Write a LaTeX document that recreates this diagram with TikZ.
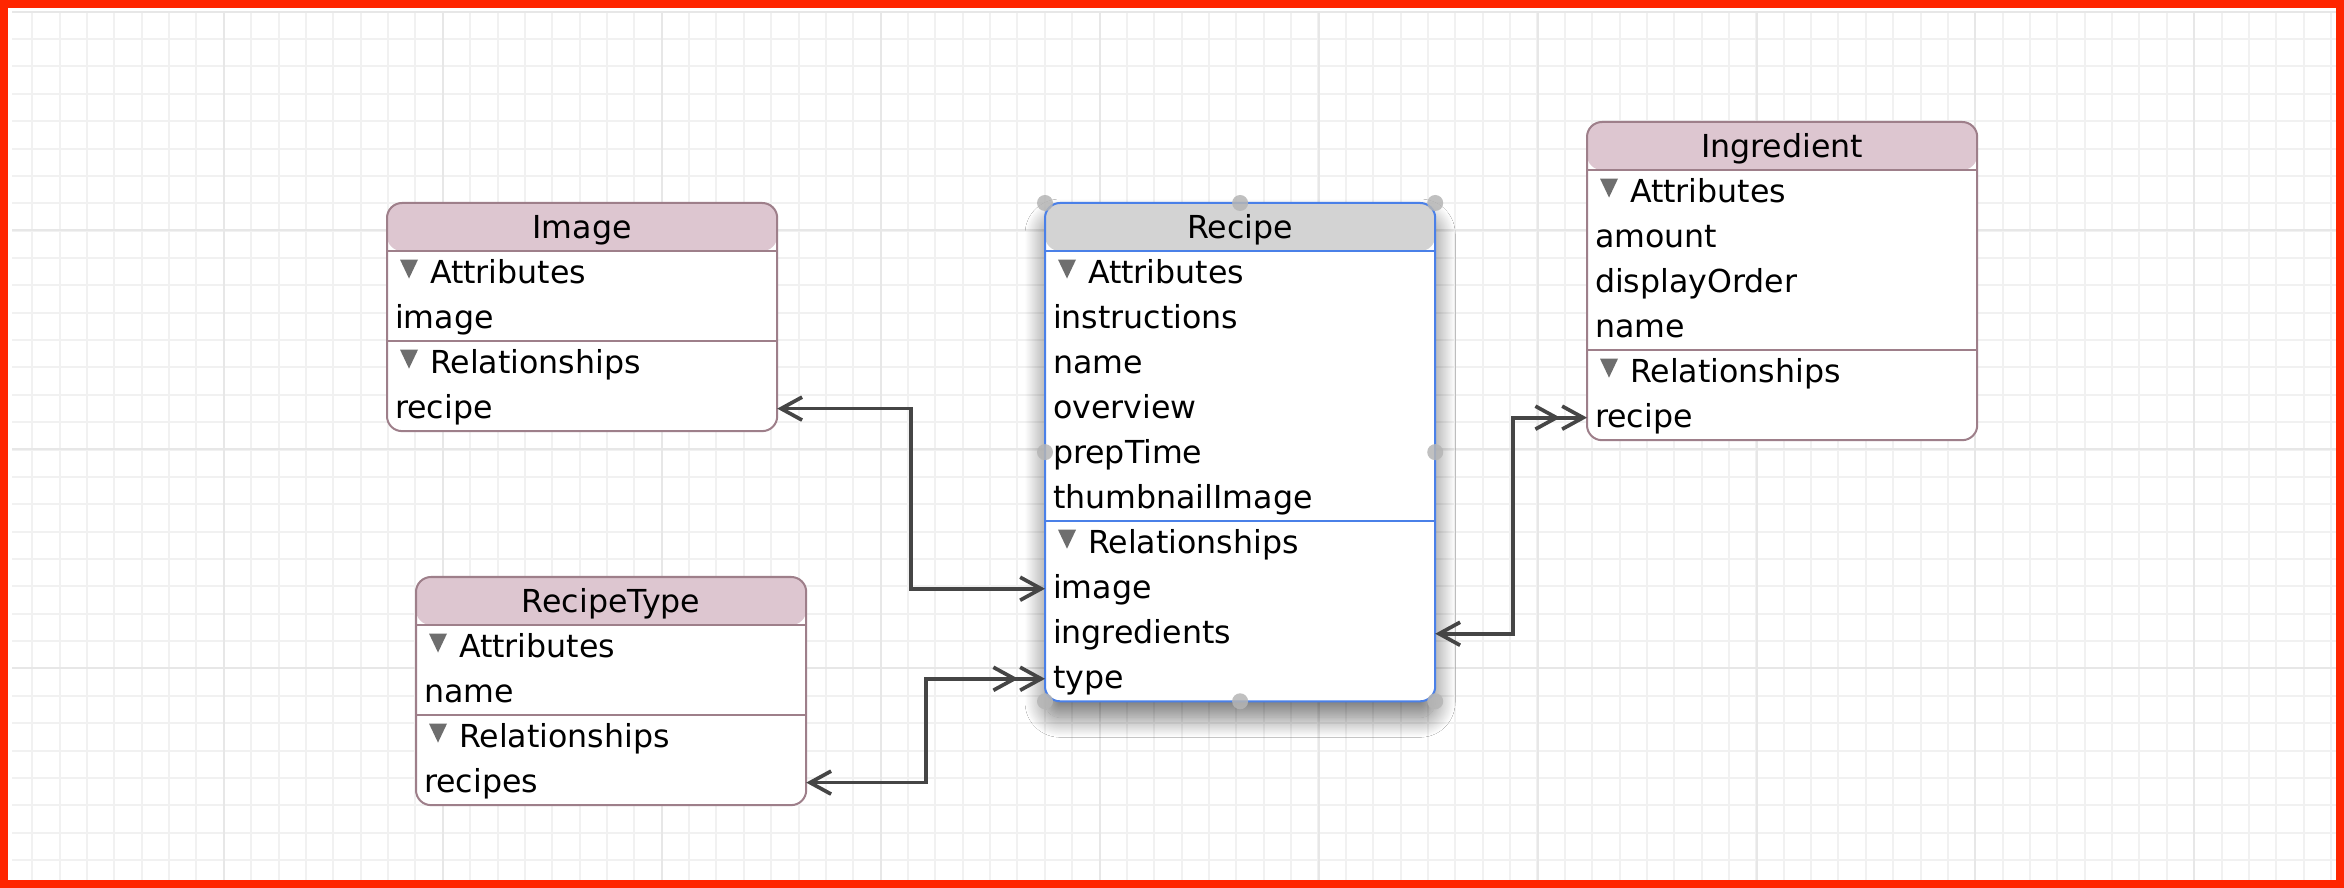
\documentclass[tikz,border=0pt]{standalone}
\usepackage{fontspec}
\setmainfont{DejaVu Sans}
\usetikzlibrary{arrows.meta,positioning,shadows.blur}

\definecolor{hdrpink}{HTML}{DDC6D0}
\definecolor{hdrgray}{HTML}{D3D3D3}
\definecolor{mauve}{HTML}{9E7F8A}
\definecolor{selblue}{HTML}{4A80E8}
\definecolor{trigray}{HTML}{6E6E6E}
\definecolor{wire}{HTML}{454545}
\definecolor{framered}{HTML}{FF2600}
\definecolor{gridminor}{HTML}{F1F1F1}
\definecolor{gridmajor}{HTML}{E7E7E7}
\definecolor{handle}{HTML}{B5B5B5}

% small grey disclosure triangle in front of a section name
\newcommand{\disclose}{\hspace{0.05cm}\tikz[baseline=0cm]\fill[trigray] (0cm,0.24cm) -- (0.18cm,0.24cm) -- (0.09cm,0.05cm) -- cycle;\hspace{0.12cm}}

\begin{document}
\begin{tikzpicture}[x=0.01cm,y=-0.01cm,font=\fontsize{9pt}{11pt}\selectfont,>={Straight Barb[length=0.21cm,width=0.23cm]}]
\tikzstyle{arc}=[draw=wire,line width=0.037cm]
\tikzstyle{entity}=[draw=mauve,line width=0.02cm,fill=white,rounded corners=0.15cm,minimum width=3.9cm,inner sep=0pt,outer sep=0pt,anchor=north west,
  path picture={\fill[hdrpink] (path picture bounding box.north west) rectangle ([yshift=-0.48cm]path picture bounding box.north east);}]
\tikzstyle{selected}=[draw=selblue,
  path picture={\fill[hdrgray] (path picture bounding box.north west) rectangle ([yshift=-0.48cm]path picture bounding box.north east);},
  blur shadow={shadow xshift=0cm,shadow yshift=-0.16cm,shadow blur radius=0.2cm,shadow blur steps=30,shadow opacity=55}]
\tikzstyle{title}=[minimum width=3.9cm,minimum height=0.48cm,inner sep=0pt,outer sep=0pt,text height=0.27cm,text depth=0.05cm,anchor=north]
\tikzstyle{row}=[minimum width=3.9cm,text width=3.74cm,inner xsep=0.08cm,inner ysep=0pt,minimum height=0.45cm,outer sep=0pt,text height=0.26cm,text depth=0.06cm,align=left,anchor=north]
\tikzstyle{sep}=[line width=0.02cm]
%% canvas %%
\useasboundingbox (0,0) rectangle (2344,888);
\fill[white] (0,0) rectangle (2344,888);
\begin{scope}[shift={(32.3,11.7)}]
\draw[gridminor,line width=0.02cm,step=0.2735cm] (-20,0) grid (2304,870);
\end{scope}
\begin{scope}[shift={(224,230.5)}]
\draw[gridmajor,line width=0.02cm,step=2.188cm] (-212,-219) grid (2112,651);
\end{scope}
\draw[framered,line width=0.08cm] (4,4) rectangle (2340,884);
%% entities %%
\node[entity,minimum height=2.28cm] at (387,203) (Image) {};
\node[title,below=0pt of Image.north] (Img-title) {Image};
\node[row,below=0pt of Img-title] (Img-a) {\disclose Attributes};
\node[row,below=0pt of Img-a] (Img-image) {image};
\node[row,below=0pt of Img-image] (Img-r) {\disclose Relationships};
\node[row,below=0pt of Img-r] (Img-recipe) {recipe};
\draw[sep,mauve] (Img-title.south west) -- (Img-title.south east);
\draw[sep,mauve] (Img-image.south west) -- (Img-image.south east);

\node[entity,selected,minimum height=4.98cm] at (1045,203) (Recipe) {};
\node[title,below=0pt of Recipe.north] (Rec-title) {Recipe};
\node[row,below=0pt of Rec-title] (Rec-a) {\disclose Attributes};
\node[row,below=0pt of Rec-a] (Rec-instructions) {instructions};
\node[row,below=0pt of Rec-instructions] (Rec-name) {name};
\node[row,below=0pt of Rec-name] (Rec-overview) {overview};
\node[row,below=0pt of Rec-overview] (Rec-prepTime) {prepTime};
\node[row,below=0pt of Rec-prepTime] (Rec-thumbnailImage) {thumbnailImage};
\node[row,below=0pt of Rec-thumbnailImage] (Rec-r) {\disclose Relationships};
\node[row,below=0pt of Rec-r] (Rec-image) {image};
\node[row,below=0pt of Rec-image] (Rec-ingredients) {ingredients};
\node[row,below=0pt of Rec-ingredients] (Rec-type) {type};
\draw[sep,selblue] (Rec-title.south west) -- (Rec-title.south east);
\draw[sep,selblue] (Rec-thumbnailImage.south west) -- (Rec-thumbnailImage.south east);
\foreach \a in {north west,north,north east,west,east,south west,south,south east}
  \fill[handle,opacity=0.85] (Recipe.\a) circle (0.08cm);

\node[entity,minimum height=3.18cm] at (1587,122) (Ingredient) {};
\node[title,below=0pt of Ingredient.north] (Ing-title) {Ingredient};
\node[row,below=0pt of Ing-title] (Ing-a) {\disclose Attributes};
\node[row,below=0pt of Ing-a] (Ing-amount) {amount};
\node[row,below=0pt of Ing-amount] (Ing-displayOrder) {displayOrder};
\node[row,below=0pt of Ing-displayOrder] (Ing-name) {name};
\node[row,below=0pt of Ing-name] (Ing-r) {\disclose Relationships};
\node[row,below=0pt of Ing-r] (Ing-recipe) {recipe};
\draw[sep,mauve] (Ing-title.south west) -- (Ing-title.south east);
\draw[sep,mauve] (Ing-name.south west) -- (Ing-name.south east);

\node[entity,minimum height=2.28cm] at (416,577) (RecipeType) {};
\node[title,below=0pt of RecipeType.north] (RT-title) {RecipeType};
\node[row,below=0pt of RT-title] (RT-a) {\disclose Attributes};
\node[row,below=0pt of RT-a] (RT-name) {name};
\node[row,below=0pt of RT-name] (RT-r) {\disclose Relationships};
\node[row,below=0pt of RT-r] (RT-recipes) {recipes};
\draw[sep,mauve] (RT-title.south west) -- (RT-title.south east);
\draw[sep,mauve] (RT-name.south west) -- (RT-name.south east);
%% relationships %%
\draw[arc,<->] (Img-recipe.east) -- ++(134,0) |- (Rec-image.west);
\draw[arc,<->>] (RT-recipes.east) -- ++(120,0) |- (Rec-type.west);
\draw[arc,<->>] (Rec-ingredients.east) -- ++(78,0) |- (Ing-recipe.west);
\end{tikzpicture}
\end{document}
